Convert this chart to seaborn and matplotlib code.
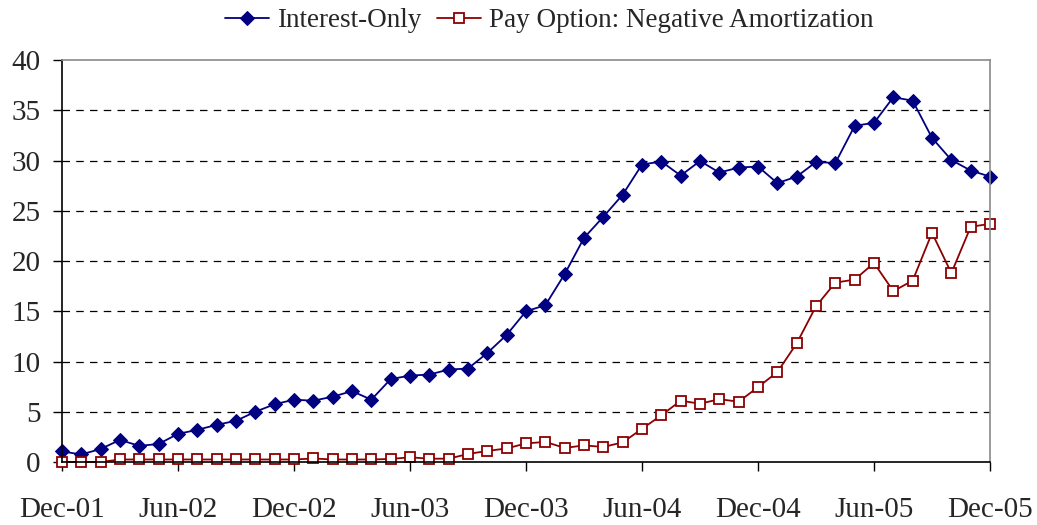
import pandas as pd
import numpy as np

import matplotlib
matplotlib.use("Agg")
import matplotlib.pyplot as plt
import seaborn as sns


# DATA (monthly, Dec-01 .. Dec-05)
tick_labels = ["Dec-01", "Jun-02", "Dec-02", "Jun-03", "Dec-03",
               "Jun-04", "Dec-04", "Jun-05", "Dec-05"]

interest_only = [1.05, 0.75, 1.3, 2.2, 1.6, 1.8, 2.8, 3.2, 3.7, 4.1,
                 5.0, 5.75, 6.2, 6.1, 6.5, 7.05, 6.2, 8.25, 8.6, 8.7,
                 9.2, 9.3, 10.85, 12.65, 15.0, 15.6, 18.7, 22.3, 24.4, 26.6,
                 29.6, 29.9, 28.5, 29.95, 28.8, 29.3, 29.4, 27.75, 28.4, 29.85,
                 29.75, 33.45, 33.75, 36.3, 35.95, 32.25, 30.05, 29.0, 28.4]

pay_option = [0.0, 0.0, 0.0, 0.25, 0.25, 0.25, 0.25, 0.25, 0.25, 0.25,
              0.25, 0.25, 0.25, 0.35, 0.25, 0.25, 0.25, 0.3, 0.47, 0.33,
              0.33, 0.8, 1.1, 1.35, 1.85, 2.0, 1.4, 1.65, 1.5, 1.95,
              3.3, 4.65, 6.1, 5.8, 6.25, 6.0, 7.45, 8.95, 11.8, 15.5,
              17.85, 18.15, 19.8, 17.0, 18.05, 22.8, 18.8, 23.4, 23.7]

month = np.arange(len(interest_only))

df = pd.DataFrame({
    "month": month,
    "Interest-Only": interest_only,
    "Pay Option: Negative Amortization": pay_option,
})


# STYLE
sns.set_style("white")
plt.rcParams["font.family"] = ["Liberation Serif", "DejaVu Serif"]

fig = plt.figure(figsize=(10.37, 5.25), dpi=100)
ax = fig.add_axes([0.0598, 0.12, 0.8949, 0.7657])


# LINES
sns.lineplot(
    data=df,
    x="month",
    y="Interest-Only",
    color="#000080",
    linewidth=1.3,
    marker="D",
    markersize=7,
    markeredgecolor="#000080",
    label="Interest-Only",
    clip_on=False,
    ax=ax
)

sns.lineplot(
    data=df,
    x="month",
    y="Pay Option: Negative Amortization",
    color="#8B0000",
    linewidth=1.3,
    marker="s",
    markersize=7.5,
    markerfacecolor="white",
    markeredgecolor="#8B0000",
    markeredgewidth=1.3,
    label="Pay Option: Negative Amortization",
    clip_on=False,
    ax=ax
)


# AXES
ax.set_xlim(0, 48)
ax.set_ylim(0, 40)

ax.set_xticks(np.arange(0, 49, 6))
ax.set_xticklabels(tick_labels)
ax.set_yticks(np.arange(0, 41, 5))

ax.set_xlabel("")
ax.set_ylabel("")

ax.tick_params(axis="x", direction="out", length=6.5, width=1,
               color="black", pad=19, labelsize=21, bottom=True)
ax.tick_params(axis="y", direction="out", length=6.5, width=1,
               color="black", pad=9, labelsize=21, left=True)

for y in range(5, 40, 5):
    ax.axhline(y, color="black", linewidth=0.9, linestyle=(0, (6, 5)), zorder=0)

ax.spines["left"].set_color("black")
ax.spines["bottom"].set_color("black")
ax.spines["top"].set_color("#8a8a8a")
ax.spines["right"].set_color("#8a8a8a")
for s in ax.spines.values():
    s.set_linewidth(1.2)


# LEGEND
ax.legend(
    loc="lower center",
    bbox_to_anchor=(0.525, 1.04),
    ncol=2,
    frameon=False,
    fontsize=19.5,
    handlelength=1.6,
    handletextpad=0.3,
    columnspacing=0.6,
    borderaxespad=0
)

plt.savefig("out.png", dpi=100)
